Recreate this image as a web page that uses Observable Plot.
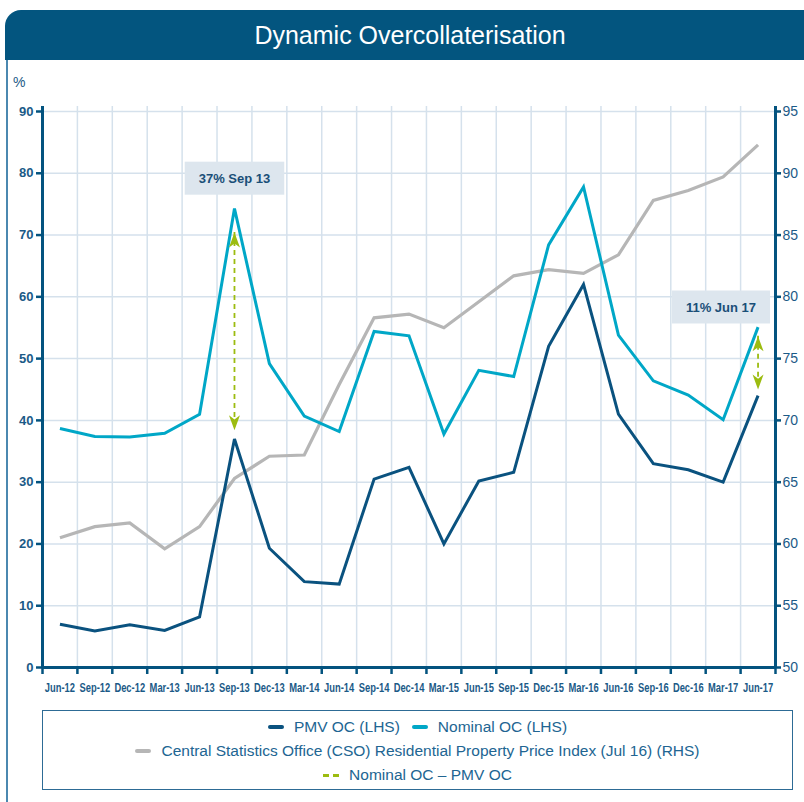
<!DOCTYPE html>
<html>
<head>
<meta charset="utf-8">
<script src="https://cdn.jsdelivr.net/npm/d3@7"></script>
<script src="https://cdn.jsdelivr.net/npm/@observablehq/plot@0.6"></script>
<style>
  html, body { margin: 0; padding: 0; background: #fff; width: 804px; height: 802px; overflow: hidden; position: relative; font-family: "Liberation Sans", Arial, sans-serif; }
  #titlebar { position: absolute; left: 5px; top: 10px; width: 830px; height: 50px; background: #03557f; border-top-left-radius: 16px; }
  #titlebar span { position: absolute; left: 0; width: 810px; text-align: center; line-height: 50px; font-size: 25px; color: #fff; }
  #leftborder { position: absolute; left: 6px; top: 60px; width: 2px; height: 742px; background: #4b88b0; }
  #unit { position: absolute; left: 13px; top: 74px; font-size: 14px; color: #1d5a86; }
  #chart { position: absolute; left: 0; top: 60px; }
  #legend { position: absolute; left: 42px; top: 710px; width: 751px; height: 80px; box-sizing: border-box; border: 1.5px solid #2d6b95; font-family: "Liberation Sans", Arial, sans-serif; font-size: 15.5px; color: #216592; padding-top: 4px; }
  #legend .row { display: flex; justify-content: center; align-items: center; height: 24px; }
  #legend .inner { display: inline-flex; align-items: center; white-space: nowrap; }
  #legend .sw { display: inline-block; width: 16px; height: 4px; border-radius: 2px; margin-right: 10px; }
  #legend .gap { display: inline-block; width: 12px; }
  #legend .dash { display: inline-block; width: 16px; height: 3px; margin-right: 10px; background: linear-gradient(to right, #9cbc10 0 6px, transparent 6px 10px, #9cbc10 10px 16px); }
</style>
</head>
<body>
<div id="titlebar"><span>Dynamic Overcollaterisation</span></div>
<div id="leftborder"></div>
<div id="unit">%</div>
<div id="chart"></div>
<div id="legend">
  <div class="row"><span class="inner"><span class="sw" style="background:#0a527f"></span>PMV OC (LHS)<span class="gap"></span><span class="sw" style="background:#00a7c7"></span>Nominal OC (LHS)</span></div>
  <div class="row"><span class="inner"><span class="sw" style="background:#b6b6b6"></span>Central Statistics Office (CSO) Residential Property Price Index (Jul 16) (RHS)</span></div>
  <div class="row"><span class="inner"><span class="dash"></span>Nominal OC – PMV OC</span></div>
</div>
<script>
const dates = ["Jun-12","Sep-12","Dec-12","Mar-13","Jun-13","Sep-13","Dec-13","Mar-14","Jun-14","Sep-14","Dec-14",
               "Mar-15","Jun-15","Sep-15","Dec-15","Mar-16","Jun-16","Sep-16","Dec-16","Mar-17","Jun-17"];
const pmvOC = [7.0, 5.9, 6.9, 6.0, 8.2, 37.0, 19.3, 13.9, 13.5, 30.5, 32.4, 20.0, 30.2, 31.6, 52.0, 62.0, 41.0, 33.0, 32.0, 30.0, 44.0];
const nominalOC = [38.7, 37.4, 37.3, 37.9, 41.0, 74.3, 49.2, 40.7, 38.2, 54.4, 53.7, 37.8, 48.1, 47.1, 68.4, 77.8, 53.8, 46.4, 44.1, 40.1, 55.1];
const csoIndex = [60.5, 61.4, 61.7, 59.6, 61.4, 65.3, 67.1, 67.2, 72.9, 78.3, 78.6, 77.5, 79.6, 81.7, 82.2, 81.9, 83.4, 87.8, 88.6, 89.7, 92.3];
const lhsTicks = [0, 10, 20, 30, 40, 50, 60, 70, 80, 90];
const rhsTicks = [50, 55, 60, 65, 70, 75, 80, 85, 90, 95];
const annotations = [
  {date: "Sep-13", label: "37% Sep 13", labelY: 79.15, from: 70.4, to: 38.4},
  {date: "Jun-17", label: "11% Jun 17", labelY: 58.3, from: 53.6, to: 45.0}
];

const lhsMin = lhsTicks[0], lhsMax = lhsTicks[lhsTicks.length - 1];
const rhsMin = rhsTicks[0], rhsMax = rhsTicks[rhsTicks.length - 1];
const toLhs = v => lhsMin + (v - rhsMin) / (rhsMax - rhsMin) * (lhsMax - lhsMin);
const toRhs = v => Math.round(rhsMin + (v - lhsMin) / (lhsMax - lhsMin) * (rhsMax - rhsMin));

const rows = dates.map((d, i) => ({i, date: d, pmv: pmvOC[i], nom: nominalOC[i], cso: toLhs(csoIndex[i])}));
const annos = annotations.map(a => ({...a, i: dates.indexOf(a.date)}));
const edges = d3.range(dates.length + 1).map(k => k - 0.5);

const arrowHead = {
  draw(ctx, size) {
    const r = Math.sqrt(size / Math.PI);
    const L = r * 3, W = r * 2.2;
    ctx.moveTo(0, 0);
    ctx.lineTo(W / 2, L);
    ctx.lineTo(0, L * 0.72);
    ctx.lineTo(-W / 2, L);
    ctx.closePath();
  }
};

const dark = "#03537f", grid = "#d5e1ec", green = "#9cbc10", labelColor = "#1b5a87";
const lineOpts = {x: "i", strokeWidth: 3, strokeLinejoin: "miter", strokeMiterlimit: 4, strokeLinecap: "butt"};

const plot = Plot.plot({
  width: 804,
  height: 645,
  marginLeft: 42,
  marginRight: 29,
  marginTop: 51,
  marginBottom: 38,
  x: {type: "linear", domain: [-0.5, dates.length - 0.5]},
  y: {domain: [lhsMin, lhsMax]},
  style: {fontFamily: "'Liberation Sans', Arial, sans-serif", background: "transparent", overflow: "visible"},
  marks: [
    Plot.ruleY(lhsTicks, {stroke: grid, strokeWidth: 1.5}),
    Plot.ruleX(edges, {insetTop: -5, stroke: grid, strokeWidth: 1.5}),
    Plot.line(rows, {...lineOpts, y: "cso", stroke: "#b6b6b6", strokeWidth: 3.2}),
    Plot.line(rows, {...lineOpts, y: "nom", stroke: "#00a7c7"}),
    Plot.line(rows, {...lineOpts, y: "pmv", stroke: "#0a527f"}),
    Plot.ruleX(annos, {x: "i", y1: "from", y2: "to", stroke: green, strokeWidth: 1.8, strokeDasharray: "5,4"}),
    Plot.dot(annos, {x: "i", y: "from", symbol: arrowHead, r: 5, fill: green, stroke: null}),
    Plot.dot(annos, {x: "i", y: "to", symbol: arrowHead, r: 5, rotate: 180, fill: green, stroke: null}),
    Plot.text([annos[0]], {x: "i", y: "labelY", text: "label", textAnchor: "middle", fontSize: 13, fontWeight: "bold", fill: "#1a4f78"}),
    Plot.text([annos[1]], {x: "i", y: "labelY", text: "label", textAnchor: "end", dx: -2, fontSize: 13, fontWeight: "bold", fill: "#1a4f78"}),
    // axes
    Plot.axisY(lhsTicks, {anchor: "left", tickSize: 6, tickPadding: 3, fontSize: 13, fontWeight: "bold", fill: labelColor, stroke: dark, strokeWidth: 2.5, label: null}),
    Plot.axisY(rhsTicks.map(toLhs), {anchor: "right", tickSize: 5, tickPadding: 2, tickFormat: d => toRhs(d), fontSize: 14, fill: labelColor, stroke: dark, strokeWidth: 2.5, label: null}),
    Plot.axisX(d3.range(dates.length), {anchor: "bottom", tickSize: 0, tickPadding: 16, tickFormat: i => dates[i], fontSize: 12.5, fontWeight: "bold", fill: labelColor, label: null}),
    Plot.axisX(edges, {anchor: "bottom", tickSize: 7, tickFormat: () => "", stroke: dark, strokeWidth: 2.5, label: null}),
    Plot.ruleX([edges[0], edges[edges.length - 1]], {insetTop: -5, stroke: dark, strokeWidth: 3}),
    Plot.ruleY([lhsMin], {stroke: dark, strokeWidth: 3})
  ]
});

document.getElementById("chart").append(plot);

const svgns = "http://www.w3.org/2000/svg";
const labelSet = new Set(annotations.map(a => a.label));
const dateSet = new Set(dates);
plot.querySelectorAll("text").forEach(t => {
  const txt = t.textContent;
  if (dateSet.has(txt)) {
    // condensed look for the date tick labels
    let tr = t.getAttribute("transform");
    if (!tr) {
      const x = +t.getAttribute("x") || 0, y = +t.getAttribute("y") || 0;
      t.removeAttribute("x"); t.removeAttribute("y");
      tr = `translate(${x},${y})`;
    }
    t.setAttribute("transform", tr + " scale(0.75,1)");
  } else if (labelSet.has(txt)) {
    const b = t.getBBox();
    const padX = 14, padY = 9;
    const rect = document.createElementNS(svgns, "rect");
    rect.setAttribute("x", b.x - padX);
    rect.setAttribute("y", b.y - padY);
    rect.setAttribute("width", b.width + 2 * padX);
    rect.setAttribute("height", b.height + 2 * padY);
    rect.setAttribute("fill", "#dde6ee");
    rect.setAttribute("stroke", "none");
    if (t.getAttribute("transform")) rect.setAttribute("transform", t.getAttribute("transform"));
    t.parentNode.insertBefore(rect, t);
  }
});
</script>
</body>
</html>
